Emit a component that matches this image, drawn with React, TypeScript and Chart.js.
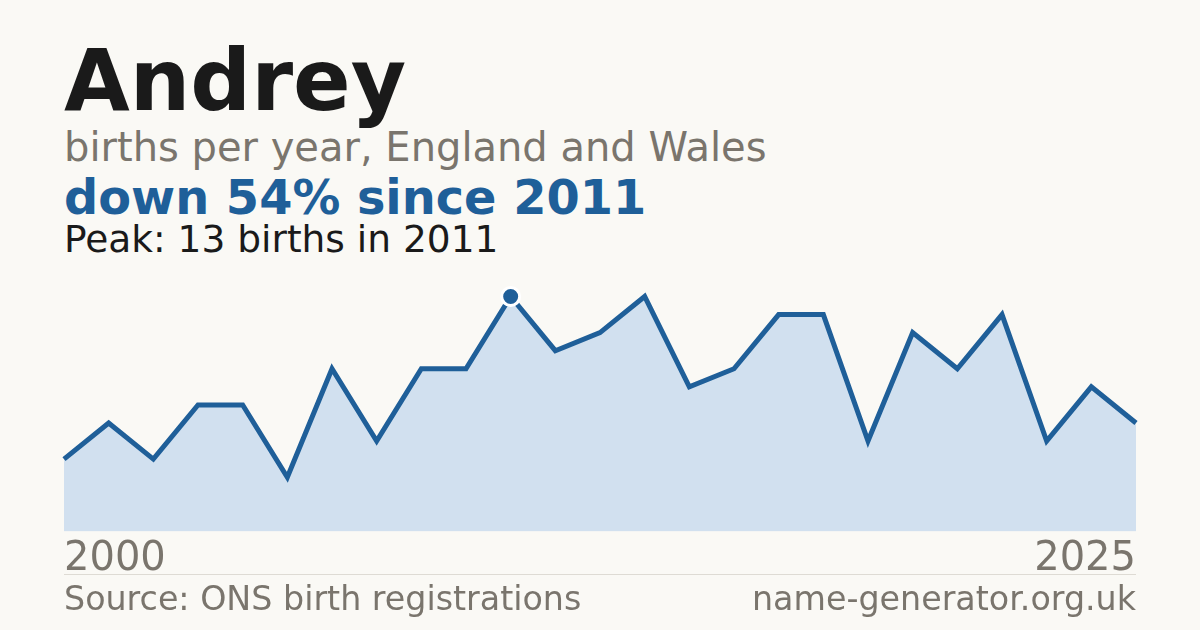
import { useEffect, useRef } from 'react';
import { Chart, registerables } from 'chart.js';

Chart.register(...registerables);

const years = [
  '2001', '2002', '2003', '2004', '2005', '2006', '2007', '2008', '2009', '2010',
  '2011', '2012', '2013', '2014', '2015', '2016', '2017', '2018', '2019', '2020',
  '2021', '2022', '2023', '2024', '2025',
];
const births = [4, 6, 4, 7, 7, 3, 9, 5, 9, 9, 13, 10, 11, 13, 8, 9, 12, 12, 5, 11, 9, 12, 5, 8, 6];
const tickLabels = ['2000', '2025'];
const peakYear = '2011';

const FONT = '"DejaVu Sans", sans-serif';
const BLUE = '#1f5f99';
const GREY = '#7a756d';
const BG = '#faf9f5';

function BirthsChart() {
  const canvasRef = useRef<HTMLCanvasElement>(null);
  const chartRef = useRef<Chart | null>(null);

  useEffect(() => {
    if (!canvasRef.current) return;
    chartRef.current?.destroy();
    const peakIdx = years.indexOf(peakYear);
    const peak = births[peakIdx];
    chartRef.current = new Chart(canvasRef.current, {
      type: 'line',
      data: {
        labels: years,
        datasets: [{
          data: births,
          borderColor: BLUE,
          borderWidth: 5,
          backgroundColor: '#d1e0ef',
          fill: 'origin',
          tension: 0,
          pointRadius: births.map((_, i) => (i === peakIdx ? 9 : 0)),
          pointBackgroundColor: BLUE,
          pointBorderColor: '#ffffff',
          pointBorderWidth: 3,
          pointHoverRadius: 0,
        }],
      },
      options: {
        animation: false,
        responsive: true,
        maintainAspectRatio: false,
        layout: { padding: 0, autoPadding: false },
        plugins: { legend: { display: false }, tooltip: { enabled: false } },
        scales: {
          x: {
            offset: false,
            grid: { display: false, drawTicks: false },
            border: { display: false },
            ticks: {
              autoSkip: false,
              maxRotation: 0,
              align: 'inner',
              padding: 4,
              color: GREY,
              font: { family: FONT, size: 40 },
              callback: (_v, i) => (i === 0 ? tickLabels[0] : i === years.length - 1 ? tickLabels[1] : ''),
            },
          },
          y: {
            display: false,
            min: 0,
            max: peak * 1.1,
          },
        },
      },
    });
    return () => chartRef.current?.destroy();
  }, []);

  return <canvas ref={canvasRef} />;
}

const text = (top: number, size: number, color: string, weight = 400): React.CSSProperties => ({
  position: 'absolute',
  left: 64,
  top,
  fontSize: size,
  lineHeight: 1,
  color,
  fontWeight: weight,
  whiteSpace: 'nowrap',
});

export default function App() {
  return (
    <div style={{ position: 'fixed', left: 0, top: 0, width: 1200, height: 630, background: BG, fontFamily: FONT, overflow: 'hidden' }}>
      <div style={text(38, 85, '#1a1a1a', 700)}>Andrey</div>
      <div style={text(127, 40, GREY)}>births per year, England and Wales</div>
      <div style={text(174, 47.8, BLUE, 700)}>down 54% since 2011</div>
      <div style={text(221, 37.5, '#1a1a1a')}>Peak: 13 births in 2011</div>
      <div style={{ position: 'absolute', left: 60, top: 272.6, width: 1080, height: 314.4 }}>
        <BirthsChart />
      </div>
      <div style={{ position: 'absolute', left: 64, top: 574, width: 1072, height: 1, background: '#dedbd4' }} />
      <div style={text(582, 33.3, GREY)}>Source: ONS birth registrations</div>
      <div style={{ ...text(582, 33.3, GREY), left: 'auto', right: 64 }}>name-generator.org.uk</div>
    </div>
  );
}
